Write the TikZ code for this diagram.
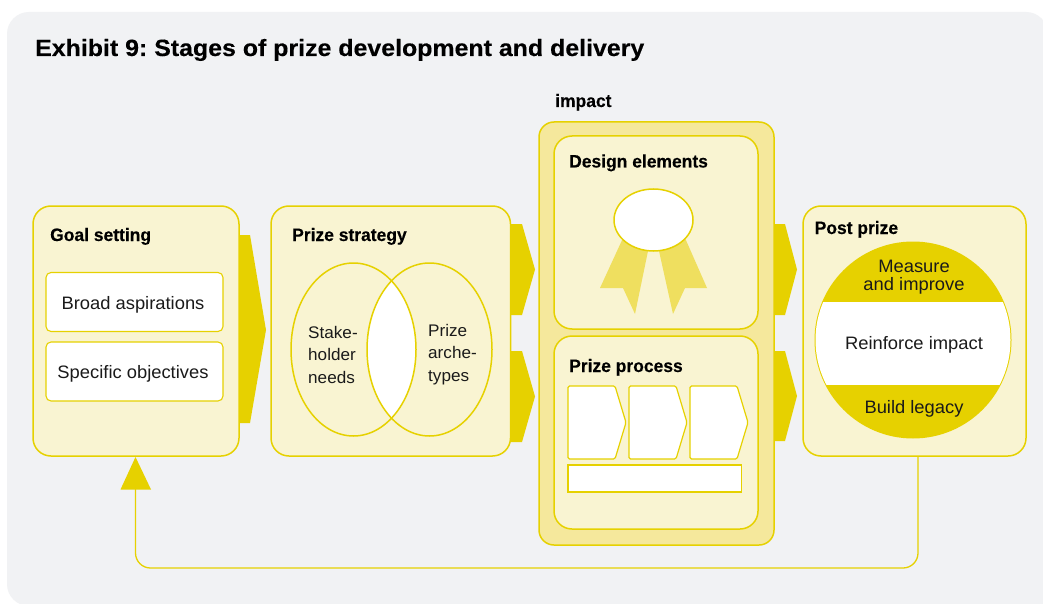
\documentclass[tikz,border=0pt]{standalone}
\usepackage{fontspec}
\setmainfont[FakeStretch=1.02]{Liberation Sans}
\newfontfamily\headf[FakeBold=0.25,FakeStretch=0.97]{Liberation Sans Bold}
\newfontfamily\titlef[FakeBold=0.3,FakeStretch=1.06]{Liberation Sans Bold}
\definecolor{bg}{HTML}{F1F2F4}
\definecolor{yl}{HTML}{E6D100}
\definecolor{pale}{HTML}{F9F4D2}
\definecolor{midy}{HTML}{F5E89C}
\definecolor{rib}{HTML}{EFDF5F}
\definecolor{ink}{HTML}{1A1A1A}
\tikzset{
  x=1pt,y=-1pt,
  panel/.style={draw=yl,line width=1.5pt,fill=pale,rounded corners=18pt},
  whitebox/.style={draw=yl,line width=1.1pt,fill=white,rounded corners=5pt},
  chev/.style={draw=yl,line width=1.2pt,fill=white,rounded corners=1.5pt},
  fat/.style={fill=yl,draw=none},
  heading/.style={font=\fontsize{18}{20}\headf,text=black,anchor=base west,inner sep=0pt},
  label/.style={font=\fontsize{18}{20}\selectfont,text=ink,inner sep=0pt},
  venn/.style={font=\fontsize{16.8}{20}\selectfont,text=ink,inner sep=0pt,anchor=base west},
  outl/.style={draw=yl,line width=1.5pt},
}
\begin{document}
\frenchspacing
\begin{tikzpicture}
\useasboundingbox (0,0) rectangle (1043,604);
\fill[white] (0,0) rectangle (1043,604);
\fill[bg,rounded corners=22pt] (7,300) -- (7,12) -- (1048,12) -- (1048,300) [sharp corners] -- (1048,606) -- (300,606) [rounded corners=22pt] -- (7,606) -- cycle;
\node[heading,font=\fontsize{23.5}{26}\titlef] (title) at (35,56) {Exhibit 9: Stages of prize development and delivery};
\node[heading] (impact) at (555,107) {impact};
% arrows behind panels
\fill[fat] (236,235) -- (250,235) -- (266,330) -- (250,423) -- (236,423) -- cycle;
\fill[fat] (508,224) -- (522,224) -- (535,269.5) -- (522,315) -- (508,315) -- cycle;
\fill[fat] (508,351) -- (522,351) -- (535,396.5) -- (522,442) -- (508,442) -- cycle;
\fill[fat] (771,224) -- (785,224) -- (797,269.5) -- (785,315) -- (771,315) -- cycle;
\fill[fat] (771,351) -- (785,351) -- (797,396) -- (785,441) -- (771,441) -- cycle;
% goal
\path[panel] (33,206) rectangle (239,456);
\coordinate (goalfoot) at (135.5,457);
\node[heading] (goalh) at (50,241) {Goal setting};
\path[whitebox] (46,272.5) rectangle (223,331.5);
\node[label] (broad) at (133,304.5) {Broad aspirations};
\path[whitebox] (46,342) rectangle (223,401);
\node[label] (spec) at (133,373.5) {Specific objectives};
% strategy
\path[panel] (271,206) rectangle (510.5,456);
\node[heading] (strath) at (292,241) {Prize strategy};
\begin{scope}
\clip (353.5,349.5) ellipse [x radius=62.5,y radius=86.5];
\fill[white] (429.5,349.5) ellipse [x radius=62.5,y radius=86.5];
\end{scope}
\draw[outl] (353.5,349.5) ellipse [x radius=62.5,y radius=86.5];
\draw[outl] (429.5,349.5) ellipse [x radius=62.5,y radius=86.5];
\node[venn] (s1) at (308,338) {Stake-};
\node[venn] (s2) at (308,360) {holder};
\node[venn] (s3) at (308,383) {needs};
\node[venn] (p1) at (428,336) {Prize};
\node[venn] (p2) at (428,358) {arche-};
\node[venn] (p3) at (428,381) {types};
% impact
\path[draw=yl,line width=1.5pt,fill=midy,rounded corners=15pt] (539,122) rectangle (774,545);
\path[panel] (554,136) rectangle (758,329);
\node[heading] (desh) at (569,167.5) {Design elements};
\fill[rib] (623,238) -- (600,288) -- (623,288) -- (635,314) -- (648,251) -- cycle;
\fill[rib] (685,238) -- (707,288) -- (685,288) -- (673,314) -- (659,251) -- cycle;
\draw[outl,fill=white] (653.5,220) ellipse [x radius=39.5,y radius=31];
\path[panel] (554,336) rectangle (758,529);
\node[heading] (proch) at (569,372) {Prize process};
\path[chev] (568,386) -- (615,386) -- (626,422.5) -- (615,459) -- (568,459) -- cycle;
\path[chev] (629,386) -- (676,386) -- (687,422.5) -- (676,459) -- (629,459) -- cycle;
\path[chev] (690,386) -- (737,386) -- (748,422.5) -- (737,459) -- (690,459) -- cycle;
\path[draw=yl,line width=1.2pt,fill=white] (568,465) rectangle (741.5,492);
% post
\path[panel] (803,206) rectangle (1026,456);
\coordinate (postfoot) at (918,456);
\node[heading] (posth) at (814.5,234) {Post prize};
\fill[yl] (913,340) circle [radius=98.5];
\begin{scope}
\clip (800,302) rectangle (1030,384);
\fill[white] (913,340) circle [radius=97.5];
\end{scope}
\node[label] (m1) at (914,266.5) {Measure};
\node[label] (m2) at (914,286) {and improve};
\node[label] (ri) at (914,344.5) {Reinforce impact};
\node[label] (bl) at (914,408.5) {Build legacy};
% feedback
\draw[draw=yl,line width=1.3pt,rounded corners=15pt] (postfoot) |- (135.5,568) -- (135.5,480);
\fill[fat] (goalfoot) -- (151,489.5) -- (120.5,489.5) -- cycle;
\end{tikzpicture}
\end{document}
